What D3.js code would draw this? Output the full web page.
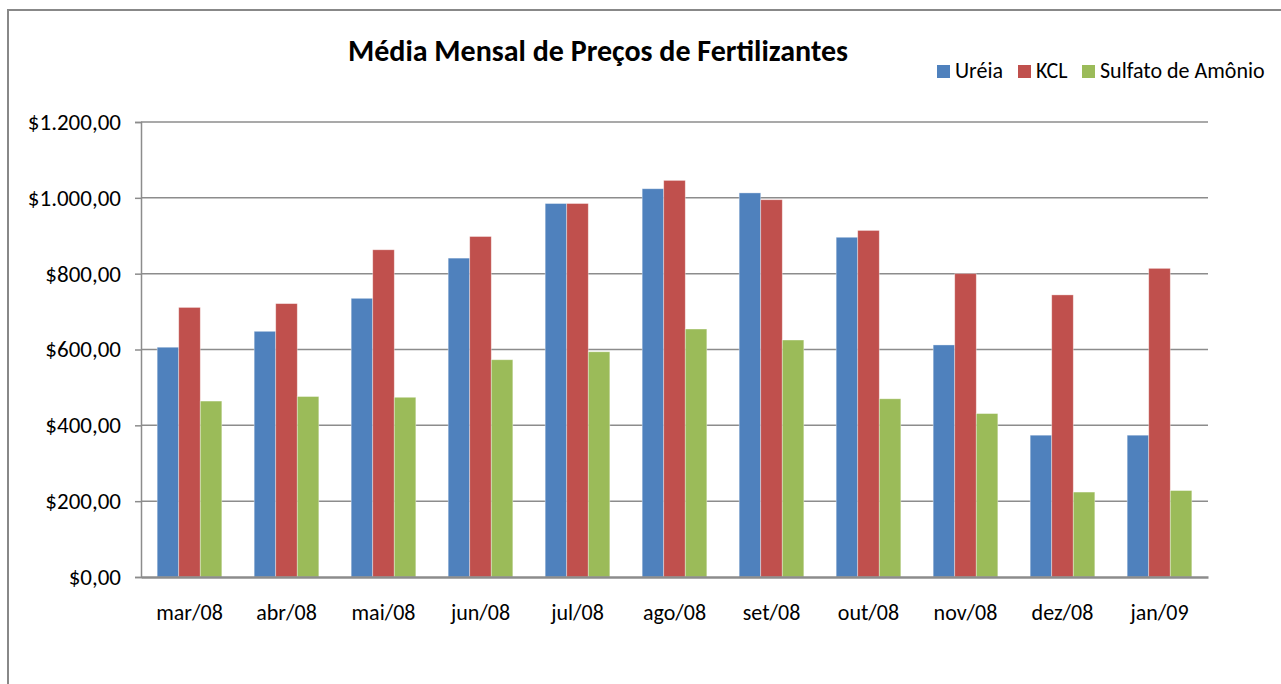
<!DOCTYPE html>
<html>
<head>
<meta charset="utf-8">
<script src="https://cdn.jsdelivr.net/npm/d3@7"></script>
<style>
  body { margin: 0; background: #fff; }
  text { font-family: Calibri, Carlito, "Open Sans", sans-serif; fill: #000; }
</style>
</head>
<body>
<div id="chart"></div>
<script>
// data
var meses = ["mar/08", "abr/08", "mai/08", "jun/08", "jul/08", "ago/08", "set/08", "out/08", "nov/08", "dez/08", "jan/09"];
var ureia = [606, 648, 735, 841, 985, 1024, 1013, 896, 612, 374, 374];
var kcl = [711, 721, 863, 898, 985, 1046, 995, 914, 800, 744, 814];
var sulfato = [464, 476, 474, 573, 594, 654, 625, 470, 431, 224, 228];
var series = ["Uréia", "KCL", "Sulfato de Amônio"];
var cores = ["#4F81BD", "#C0504D", "#9BBB59"];
var yTicks = [0, 200, 400, 600, 800, 1000, 1200];

var W = 1281, H = 684;
var margin = {top: 122, right: 73, bottom: 107, left: 141};
var width = W - margin.left - margin.right,
    height = H - margin.top - margin.bottom;

var svg = d3.select("#chart").append("svg")
    .attr("width", W)
    .attr("height", H);

// outer border of the chart area
svg.append("rect")
    .attr("x", 8).attr("y", 10)
    .attr("width", W + 20).attr("height", H + 20)
    .attr("fill", "none")
    .attr("stroke", "#888")
    .attr("stroke-width", 2);

var g = svg.append("g")
    .attr("transform", "translate(" + margin.left + "," + margin.top + ")");

var x = d3.scaleBand().domain(meses).range([0, width]).paddingInner(1.5 / 4.5).paddingOuter(0.75 / 4.5);
var x1 = d3.scaleBand().domain(series).range([0, x.bandwidth()]);
var y = d3.scaleLinear().domain([0, 1200]).range([height, 0]);

var fmt = function(v) {
    var s = d3.format(",.2f")(v);
    // trocar separadores para o formato brasileiro
    s = s.replace(/,/g, "#").replace(".", ",").replace(/#/g, ".");
    return "$" + s;
};

// gridlines
g.selectAll(".grid")
    .data(yTicks.filter(d => d > 0))
    .enter().append("line")
    .attr("x1", 0).attr("x2", width)
    .attr("y1", d => y(d)).attr("y2", d => y(d))
    .attr("stroke", "#8c8c8c")
    .attr("stroke-width", 1.5);

// Y axis
var yAxis = g.append("g")
    .call(d3.axisLeft(y).tickValues(yTicks).tickFormat(fmt).tickSize(6).tickPadding(14));
yAxis.select(".domain").attr("stroke", "#8c8c8c").attr("stroke-width", 1.5);
yAxis.selectAll(".tick line").attr("stroke", "#8c8c8c").attr("stroke-width", 1.5);
yAxis.selectAll("text")
    .style("font-family", "Calibri, Carlito, 'Open Sans', sans-serif")
    .style("font-size", "23px")
    .attr("fill", "#000");

// bars
var dados = meses.map(function(m, i) {
    return {mes: m, vals: [ureia[i], kcl[i], sulfato[i]]};
});

var grupos = g.selectAll(".grupo")
    .data(dados)
    .enter().append("g")
    .attr("transform", d => "translate(" + x(d.mes) + ",0)");

grupos.selectAll("rect")
    .data(d => d.vals.map((v, k) => ({serie: series[k], v: v, k: k})))
    .enter().append("rect")
    .attr("x", d => x1(d.serie))
    .attr("width", x1.bandwidth())
    .attr("y", d => y(d.v))
    .attr("height", d => height - y(d.v))
    .attr("fill", d => cores[d.k])
    .attr("stroke", "rgba(255,255,255,0.45)")
    .attr("stroke-width", 0.8);

// X axis
var xAxis = g.append("g")
    .attr("transform", "translate(0," + height + ")")
    .call(d3.axisBottom(x).tickSize(0).tickPadding(27));
xAxis.select(".domain").attr("stroke", "#8c8c8c").attr("stroke-width", 2.5);
xAxis.selectAll("text")
    .style("font-family", "Calibri, Carlito, 'Open Sans', sans-serif")
    .style("font-size", "22px")
    .attr("fill", "#000");

// title
svg.append("text")
    .attr("x", 598)
    .attr("y", 61)
    .style("text-anchor", "middle")
    .style("font-weight", "bold")
    .style("font-size", "30px")
    .text("Média Mensal de Preços de Fertilizantes");

// legend
var legX = [937, 1018, 1082];
var leg = svg.selectAll(".leg")
    .data(series)
    .enter().append("g")
    .attr("transform", (d, i) => "translate(" + legX[i] + ",65)");
leg.append("rect")
    .attr("width", 13).attr("height", 13)
    .attr("fill", (d, i) => cores[i]);
leg.append("text")
    .attr("x", 18).attr("y", 13)
    .style("font-size", "22px")
    .text(d => d);
</script>
</body>
</html>
